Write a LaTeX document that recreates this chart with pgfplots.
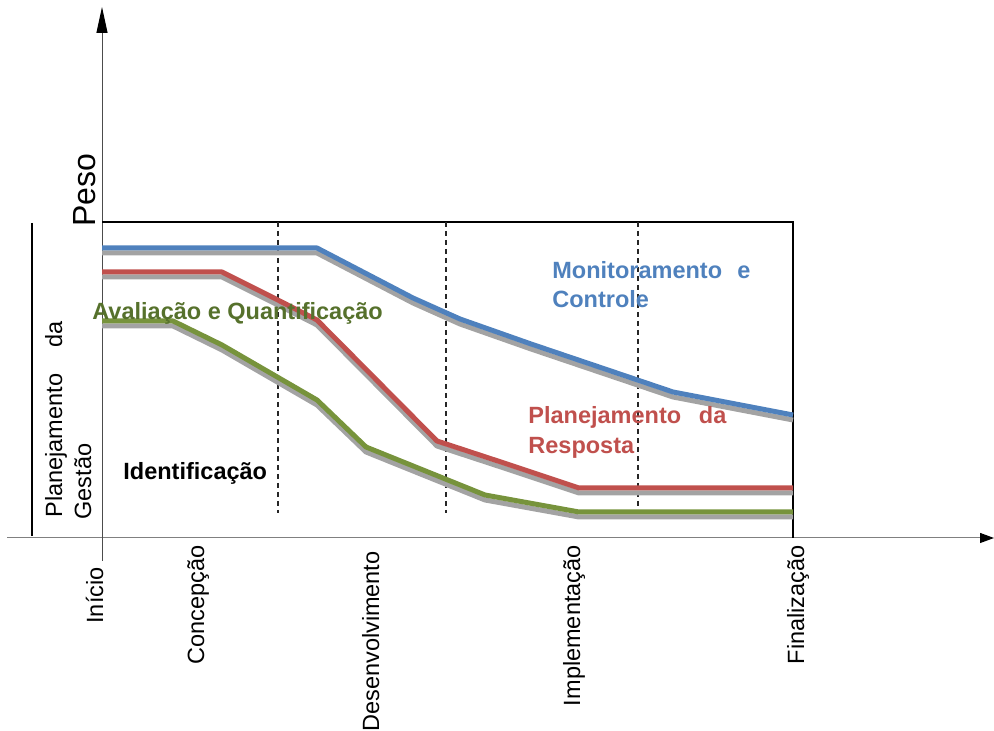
\documentclass[border=0pt]{standalone}
\usepackage{pgfplots}
\pgfplotsset{compat=1.18}
\usepackage{pgfplotstable}
\usepackage{fontspec}
\setmainfont{Liberation Sans}
\usetikzlibrary{arrows.meta}

\definecolor{cblue}{HTML}{4F81BD}
\definecolor{cred}{HTML}{C0504D}
\definecolor{cgreen}{HTML}{77933C}
\definecolor{tgreen}{HTML}{56712C}
\definecolor{shadow}{HTML}{A3A3A3}

\pgfplotstableread{
x y
102 290
151 290
317 290
365 265
413 240
460 219
531 194
673 146
793 123
}\blueser

\pgfplotstableread{
x y
102 266
174 266
222 266
270 242
317 218
437 97
507 74
579 50
650 50
746 50
793 50
}\redser

\pgfplotstableread{
x y
102 217
173 217
222 193
317 138
366 91
485 43
579 26
650 26
746 26
793 26
}\greenser

\newcommand\lbl{\fontsize{11.75}{14}\selectfont}

\begin{document}
\begin{tikzpicture}
\begin{axis}[hide axis, clip=false, x=0.5pt, y=0.5pt,
  xmin=0, xmax=994, ymin=-193, ymax=538]

\coordinate (bl) at (axis cs:0,-193);
\coordinate (tr) at (axis cs:994,538);

% axes
\draw[color=black!50, line width=0.5pt, -{Triangle[length=7pt,width=5pt,black]}] (axis cs:7,0) -- (axis cs:994,0);
\draw[color=black!70, line width=0.5pt, -{Triangle[length=13pt,width=5.5pt,black]}] (axis cs:102,-23) -- (axis cs:102,531);

% box
\draw[black, line width=1.25pt] (axis cs:102,316) -- (axis cs:793,316) -- (axis cs:793,0);
\draw[black, line width=1.25pt] (axis cs:32,315) -- (axis cs:32,2);

% dashed separators
\foreach \xx in {278,446,638} {
  \edef\temp{\noexpand\draw[black!85, line width=0.8pt, dash pattern=on 2.5pt off 2pt] (axis cs:\xx,316) -- (axis cs:\xx,25);}
  \temp
}

% series with shadows
\addplot[shadow, line width=2.5pt, line join=round, no marks] table[x=x, y expr=\thisrow{y}-5] {\greenser};
\addplot[cgreen, line width=2.5pt, line join=round, no marks] table[x=x, y=y] {\greenser};
\addplot[shadow, line width=2.5pt, line join=round, no marks] table[x=x, y expr=\thisrow{y}-5] {\redser};
\addplot[cred, line width=2.5pt, line join=round, no marks] table[x=x, y=y] {\redser};
\addplot[shadow, line width=2.5pt, line join=round, no marks] table[x=x, y expr=\thisrow{y}-5] {\blueser};
\addplot[cblue, line width=2.5pt, line join=round, no marks] table[x=x, y=y] {\blueser};

% y label
\node[rotate=90, anchor=base west, inner sep=0pt] at (axis cs:95,311) {\fontsize{16}{19}\selectfont Peso};

% left label
\node[rotate=90, anchor=base west, inner sep=0pt] at (axis cs:62,20) {\lbl\makebox[98pt][s]{Planejamento da}};
\node[rotate=90, anchor=base west, inner sep=0pt] at (axis cs:91,18) {\lbl Gestão};

% phase labels
\node[anchor=base west, inner sep=0pt] at (axis cs:123,58) {\lbl\bfseries Identificação};
\node[anchor=base west, inner sep=0pt, text=tgreen] at (axis cs:92,218) {\lbl\bfseries Avaliação e Quantificação};
\node[anchor=base west, inner sep=0pt, text=cblue] at (axis cs:552,259) {\lbl\bfseries\makebox[99pt][s]{Monitoramento e}};
\node[anchor=base west, inner sep=0pt, text=cblue] at (axis cs:552,230) {\lbl\bfseries Controle};
\node[anchor=base west, inner sep=0pt, text=cred] at (axis cs:528,114) {\lbl\bfseries\makebox[99pt][s]{Planejamento da}};
\node[anchor=base west, inner sep=0pt, text=cred] at (axis cs:528,84) {\lbl\bfseries Resposta};

% x tick labels
\node[rotate=90, anchor=base east, inner sep=0pt] at (axis cs:103,-29) {\lbl Início};
\node[rotate=90, anchor=base east, inner sep=0pt] at (axis cs:204,-7) {\lbl Concepção};
\node[rotate=90, anchor=base east, inner sep=0pt] at (axis cs:379,-13) {\lbl Desenvolvimento};
\node[rotate=90, anchor=base east, inner sep=0pt] at (axis cs:580,-7) {\lbl Implementação};
\node[rotate=90, anchor=base east, inner sep=0pt] at (axis cs:804,-7) {\lbl Finalização};

\end{axis}
\pgfresetboundingbox
\path[use as bounding box] (bl) rectangle (tr);
\end{tikzpicture}
\end{document}
